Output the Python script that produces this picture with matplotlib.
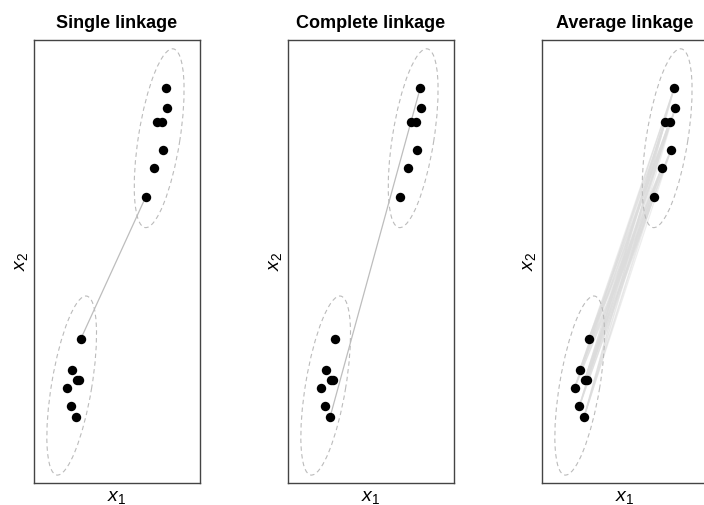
import matplotlib
matplotlib.use("Agg")
import matplotlib.pyplot as plt
from matplotlib.patches import Ellipse
import numpy as np

plt.rcParams['font.family'] = ['Liberation Sans', 'DejaVu Sans']
plt.rcParams['mathtext.fontset'] = 'custom'
plt.rcParams['mathtext.it'] = 'Liberation Sans:italic'
plt.rcParams['mathtext.rm'] = 'Liberation Sans'

# two clusters of points
upper_x = [7.97, 8.03, 7.43, 7.69, 7.77, 7.21, 6.73]
upper_y = [23.81, 22.57, 21.77, 21.77, 20.06, 18.99, 17.23]
lower_x = [2.81, 2.27, 2.57, 2.69, 1.97, 2.25, 2.53]
lower_y = [8.66, 6.79, 6.19, 6.19, 5.74, 4.62, 3.96]

# ellipses: center x, center y, major, minor, angle
ell_upper = (7.54, 20.77, 10.9, 2.5, 81.0)
ell_lower = (2.27, 5.87, 10.93, 2.42, 80.5)

titles = ['Single linkage', 'Complete linkage', 'Average linkage']

U = np.column_stack([upper_x, upper_y])
L = np.column_stack([lower_x, lower_y])
D = np.sqrt(((U[:, None, :] - L[None, :, :]) ** 2).sum(-1))

fig = plt.figure(figsize=(7.04, 5.05), dpi=100)
lefts = [34, 288, 542]
for k, title in enumerate(titles):
    ax = fig.add_axes([lefts[k] / 704, 22 / 505, 166 / 704, 443 / 505])
    ax.set_xlim(0, 10)
    ax.set_ylim(0, 443 / 16.6)

    if k == 0:
        i, j = np.unravel_index(D.argmin(), D.shape)
        ax.plot([U[i, 0], L[j, 0]], [U[i, 1], L[j, 1]], color='#bdbdbd', lw=0.9, zorder=1)
    elif k == 1:
        i, j = np.unravel_index(D.argmax(), D.shape)
        ax.plot([U[i, 0], L[j, 0]], [U[i, 1], L[j, 1]], color='#bdbdbd', lw=0.9, zorder=1)
    else:
        for i in range(len(U)):
            for j in range(len(L)):
                ax.plot([U[i, 0], L[j, 0]], [U[i, 1], L[j, 1]], color='#dcdcdc',
                        lw=0.9, alpha=0.5, zorder=1)

    for e in (ell_upper, ell_lower):
        ax.add_patch(Ellipse((e[0], e[1]), e[2], e[3], angle=e[4], fill=False,
                             ec='#bbbbbb', lw=0.8, ls=(0, (4, 3)), zorder=2))

    ax.scatter(upper_x + lower_x, upper_y + lower_y, s=46, c='black', lw=0, zorder=3)

    ax.set_xticks([])
    ax.set_yticks([])
    for sp in ax.spines.values():
        sp.set_color('#444444')
        sp.set_linewidth(1.0)
    ax.set_title(title, fontsize=13, fontweight='bold', pad=9)
    ax.set_xlabel(r'$x_1$', fontsize=14, labelpad=4)
    ax.set_ylabel(r'$x_2$', fontsize=14, labelpad=3)

fig.savefig('out.png', dpi=100)
